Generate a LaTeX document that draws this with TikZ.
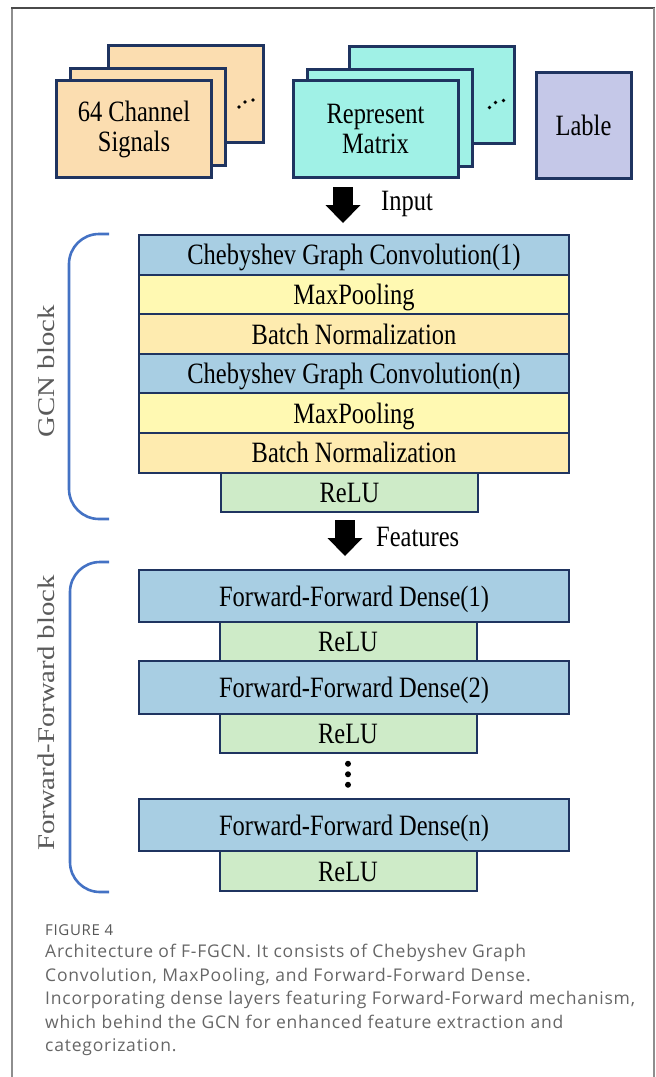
\documentclass[tikz,border=0pt]{standalone}
\usepackage{fontspec}
\setmainfont{Liberation Serif}[FakeStretch=0.83]
\newfontfamily\blockfont{Liberation Serif}[FakeStretch=1.2]
\newfontfamily\capfont{Open Sans}[LetterSpace=4.5]
\usepackage{tikz}
\usetikzlibrary{positioning, arrows.meta}
\definecolor{frameGrey}{HTML}{8E8E8E}
\definecolor{frameDark}{HTML}{4A4A4A}
\definecolor{navyLine}{HTML}{1F3460}
\definecolor{cardOrange}{HTML}{FBDDB0}
\definecolor{cardCyan}{HTML}{A0F1E6}
\definecolor{labelPurple}{HTML}{C5C8E8}
\definecolor{chebBlue}{HTML}{A8CEE3}
\definecolor{poolYellow}{HTML}{FFF9B2}
\definecolor{normYellow}{HTML}{FEEBAF}
\definecolor{reluGreen}{HTML}{CEEBC8}
\definecolor{braceBlue}{HTML}{4472C4}
\definecolor{labelGrey}{HTML}{5A5A5A}
\definecolor{capGrey}{HTML}{666666}

\begin{document}
\begin{tikzpicture}[x=1pt, y=-1pt, font=\fontsize{29.5}{30}\selectfont,
  card/.style={draw=navyLine, line width=3pt, minimum width=155, minimum height=97, inner sep=0pt},
  layer/.style={draw=navyLine, line width=2pt, minimum width=430, minimum height=39.6, inner sep=0pt, outer sep=0pt, text height=20pt, text depth=0pt},
  act/.style={fill=reluGreen, minimum width=257},
  dense/.style={fill=chebBlue, minimum height=52.5},
  flowarrow/.style={line width=20pt, -{Triangle[length=18pt, width=35pt, line width=0pt]}},
  blockbrace/.style={draw=braceBlue, line width=2.6pt, rounded corners=30pt},
  blocklabel/.style={rotate=90, text=labelGrey, font=\blockfont\fontsize{24}{28}\selectfont}]
  \useasboundingbox (0,0) rectangle (656,1077);

  % page frame
  \draw[frameGrey, line width=1.8pt] (12,1077) -- (12,8);
  \draw[frameDark, line width=1.5pt] (11,8) -- (655,8);
  \draw[frameGrey, line width=1.8pt] (654,8) -- (654,1077);

  % inputs
  \node[card, fill=cardOrange] (sigC) at (186,94) {};
  \node[card, fill=cardOrange] (sigB) at (148,117) {};
  \node[card, fill=cardOrange, align=center] (sigA) at (134,129) {64 Channel\\Signals};
  \node[card, fill=cardCyan, minimum width=165] (repC) at (431.5,94.5) {};
  \node[card, fill=cardCyan, minimum width=165] (repB) at (390,117.5) {};
  \node[card, fill=cardCyan, minimum width=165, align=center] (repA) at (375.5,129) {Represent\\Matrix};
  \node[card, fill=labelPurple, minimum width=95, minimum height=106] (lab) at (583.5,125) {Lable};
  \foreach \dx/\dy in {-26/13, -20/8, -12/6} {
    \fill (sigC.east) ++(\dx,\dy) circle (1.8);
    \fill (repC.east) ++(\dx,\dy) circle (1.8);
  }

  \coordinate (inTop) at (343,187);
  \coordinate (inTip) at (343,223);
  \draw[flowarrow] (inTop) -- (inTip);
  \node[anchor=base west, inner sep=0pt] (inLbl) at (381,210) {Input};

  % GCN block
  \node[layer, fill=chebBlue] (cheb1) at (354,254.8) {Chebyshev Graph Convolution(1)};
  \node[layer, fill=poolYellow, below=0pt of cheb1] (pool1) {MaxPooling};
  \node[layer, fill=normYellow, below=0pt of pool1] (norm1) {Batch Normalization};
  \node[layer, fill=chebBlue, below=0pt of norm1] (chebN) {Chebyshev Graph Convolution(n)};
  \node[layer, fill=poolYellow, below=0pt of chebN] (pool2) {MaxPooling};
  \node[layer, fill=normYellow, below=0pt of pool2] (norm2) {Batch Normalization};
  \node[layer, act, below=0pt of norm2, xshift=-4.5pt] (reluG) {ReLU};

  \draw[blockbrace] (109,234) -- (69,234) -- (69,519) -- (109,519);
  \node[blocklabel] (gcnLbl) at (46,371) {GCN block};

  \coordinate (ftTop) at (345,520);
  \coordinate (ftTip) at (345,556);
  \draw[flowarrow] (ftTop) -- (ftTip);
  \node[anchor=base west, inner sep=0pt] (ftLbl) at (376,546) {Features};

  % Forward-Forward block
  \node[layer, dense] (ff1) at (354,596) {Forward-Forward Dense(1)};
  \node[layer, act, minimum height=39, below=0pt of ff1, xshift=-6pt] (relu1) {ReLU};
  \node[layer, dense, below=0pt of relu1, xshift=6pt] (ff2) {Forward-Forward Dense(2)};
  \node[layer, act, minimum height=39, below=0pt of ff2, xshift=-6pt] (relu2) {ReLU};
  \foreach \k in {11,21.5,32} \fill ([yshift=-\k pt]relu2.south) circle (3);
  \node[layer, dense, below=46pt of relu2, xshift=6pt] (ffN) {Forward-Forward Dense(n)};
  \node[layer, act, below=0pt of ffN, xshift=-6pt] (relu3) {ReLU};

  \draw[blockbrace] (109,562) -- (70,562) -- (70,892) -- (109,892);
  \node[blocklabel] (ffLbl) at (46,713) {Forward-Forward block};

  % caption
  \node[anchor=base west, inner sep=0pt, font=\capfont\fontsize{15}{17}\selectfont, text=capGrey!85!black] (figNo) at (45,935) {FIGURE 4};
  \node[anchor=north west, inner sep=0pt, align=left, font=\capfont\fontsize{17.5}{23.5}\selectfont, text=capGrey] (cap) at (45,944) {Architecture of F-FGCN. It consists of Chebyshev Graph\\
    Convolution, MaxPooling, and Forward-Forward Dense.\\
    Incorporating dense layers featuring Forward-Forward mechanism,\\
    which behind the GCN for enhanced feature extraction and\\
    categorization.};
\end{tikzpicture}
\end{document}
